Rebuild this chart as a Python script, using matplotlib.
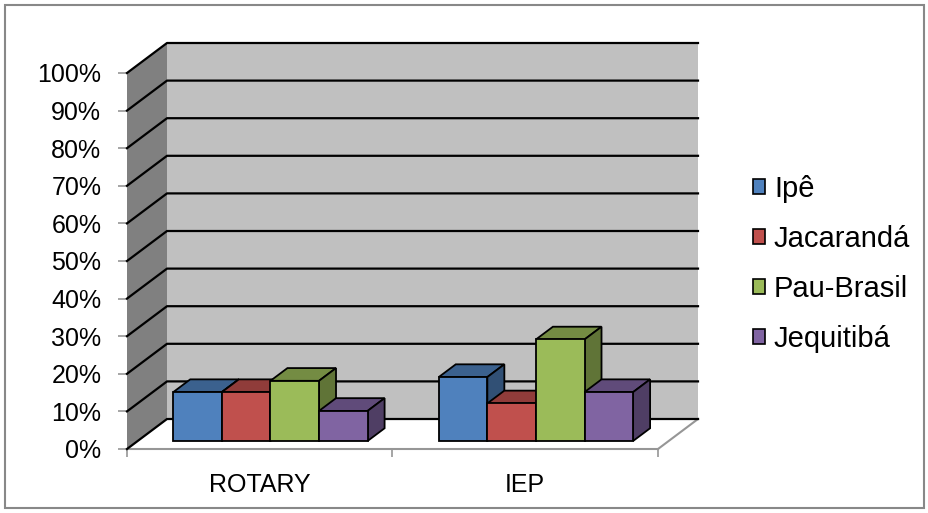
import matplotlib
matplotlib.use("Agg")
import matplotlib.pyplot as plt
from matplotlib.patches import Polygon, Rectangle, Patch
import numpy as np

plt.rcParams['font.family'] = ['Liberation Sans', 'DejaVu Sans']

# dados
categorias = ["ROTARY", "IEP"]
series = ["Ipê", "Jacarandá", "Pau-Brasil", "Jequitibá"]
ipe = [0.13, 0.17]
jacaranda = [0.13, 0.10]
pau_brasil = [0.16, 0.27]
jequitiba = [0.08, 0.13]
valores = [ipe, jacaranda, pau_brasil, jequitiba]
cores = ["#4F81BD", "#C0504D", "#9BBB59", "#8064A2"]
yticks = np.arange(0, 11) / 10

fig = plt.figure(figsize=(9.29, 5.13), dpi=100)
ax = fig.add_axes([127 / 929, 64 / 513, 531 / 929, 376 / 513])
ax.set_xlim(0, len(categorias))
ax.set_ylim(0, 1)
ax.set_facecolor("none")

# profundidade (perspectiva obliqua)
DX = 40 / 265.5
DY = 30 / 376


def proj(x, y, d):
    return (x + d * DX, y + d * DY)


n = len(categorias)
# paredes e piso
parede_esq = Polygon([proj(0, 0, 0), proj(0, 1, 0), proj(0, 1, 1), proj(0, 0, 1)],
                     facecolor="#808080", edgecolor="none", clip_on=False, zorder=1)
parede_fundo = Polygon([proj(0, 0, 1), proj(0, 1, 1), proj(n, 1, 1), proj(n, 0, 1)],
                       facecolor="#C0C0C0", edgecolor="none", clip_on=False, zorder=1)
piso = Polygon([proj(0, 0, 0), proj(n, 0, 0), proj(n, 0, 1), proj(0, 0, 1)],
               facecolor="white", edgecolor="none", clip_on=False, zorder=1)
for p in (parede_esq, parede_fundo, piso):
    ax.add_patch(p)
ax.plot(*zip(proj(n, 0, 0), proj(n, 0, 1)), color="#969696", lw=1.5,
        clip_on=False, zorder=1.5)

# linhas de grade
for t in yticks:
    pts = [proj(0, t, 0), proj(0, t, 1), proj(n, t, 1)]
    ax.plot(*zip(*pts), color="black", lw=1.6, clip_on=False, zorder=2)

# barras 3D
w = 0.183
d0 = 0.267
dd = 0.425
off = 0.5 - 2 * w
z = 3
for i in range(n):
    for j, (vals, cor) in enumerate(zip(valores, cores)):
        v = vals[i]
        rgb = np.array(matplotlib.colors.to_rgb(cor))
        xl = i + off + j * w + d0 * DX
        xr = xl + w
        base = d0 * DY
        topo = base + v
        ax.bar(xl, v, width=w, bottom=base, align="edge", color=cor,
               edgecolor="black", linewidth=1.3, zorder=z + 0.2, clip_on=False)
        sup = Polygon([(xl, topo), (xr, topo), (xr + dd * DX, topo + dd * DY),
                       (xl + dd * DX, topo + dd * DY)],
                      facecolor=rgb * 0.75, edgecolor="black", lw=1.3,
                      zorder=z, clip_on=False)
        lado = Polygon([(xr, base), (xr, topo), (xr + dd * DX, topo + dd * DY),
                        (xr + dd * DX, base + dd * DY)],
                       facecolor=rgb * 0.62, edgecolor="black", lw=1.3,
                       zorder=z + 0.1, clip_on=False)
        ax.add_patch(sup)
        ax.add_patch(lado)
        z += 1

# eixos
for s in ("top", "right"):
    ax.spines[s].set_visible(False)
ax.spines["left"].set_visible(False)
ax.spines["bottom"].set_color("#969696")
ax.spines["bottom"].set_linewidth(1.5)
ax.spines["bottom"].set_zorder(1.6)

ax.set_yticks(yticks)
ax.set_yticklabels([f"{int(round(t * 100))}%" for t in yticks])
ax.tick_params(axis="y", length=6.5, width=1.2, color="#969696", pad=12,
               labelsize=18)
ax.set_xticks(np.arange(n + 1))
ax.set_xticklabels([])
ax.tick_params(axis="x", which="major", length=6, width=1.2, color="#969696")
ax.set_xticks(np.arange(n) + 0.5, minor=True)
ax.set_xticklabels(categorias, minor=True)
ax.tick_params(axis="x", which="minor", length=0, pad=17, labelsize=18)

# legenda
handles = [Patch(facecolor=c, edgecolor="black", linewidth=1.2) for c in cores]
fig.legend(handles, series, loc="upper left", bbox_to_anchor=(753 / 929, 1 - 175 / 513),
           frameon=False, fontsize=21, handlelength=0.42, handleheight=0.42,
           handletextpad=0.3, labelspacing=0.75, borderpad=0, borderaxespad=0)

# moldura externa
fig.patches.append(Rectangle((5 / 929, 5 / 513), 919 / 929, 503 / 513,
                             transform=fig.transFigure, fill=False,
                             edgecolor="#888888", linewidth=1.5))

fig.savefig("out.png", dpi=100)
